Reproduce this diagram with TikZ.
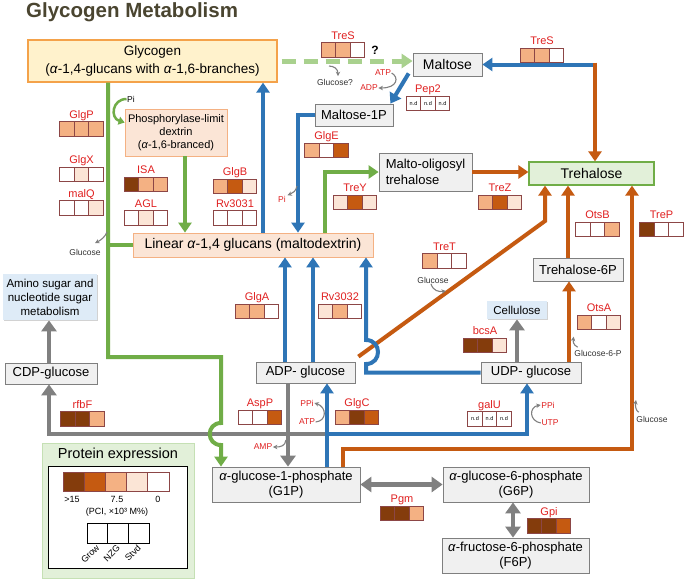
\documentclass[tikz,border=0pt]{standalone}
\usepackage{fontspec}
\setmainfont{Liberation Sans}
\usetikzlibrary{arrows.meta,positioning,shadows}

\definecolor{titlecol}{HTML}{4A4530}
\definecolor{grn}{HTML}{70AD47}
\definecolor{lgrn}{HTML}{A9D18E}
\definecolor{blu}{HTML}{2E75B6}
\definecolor{org}{HTML}{C55A11}
\definecolor{gry}{HTML}{808080}
\definecolor{db}{HTML}{843C0C}
\definecolor{mo}{HTML}{C55A11}
\definecolor{lo}{HTML}{F4B183}
\definecolor{vl}{HTML}{FBE5D6}
\definecolor{wh}{HTML}{FFFFFF}
\definecolor{cellborder}{HTML}{8C4646}
\definecolor{enzred}{HTML}{E02020}
\definecolor{boxgray}{HTML}{F0F0F0}
\definecolor{boxline}{HTML}{7F7F7F}
\definecolor{glyfill}{HTML}{FFF2CC}
\definecolor{glyline}{HTML}{F4A24A}
\definecolor{peach}{HTML}{FBE5D6}
\definecolor{peachline}{HTML}{F4B183}
\definecolor{paleblue}{HTML}{DEEBF7}
\definecolor{palegreen}{HTML}{E2F0D9}
\definecolor{legline}{HTML}{C5E0B4}

\tikzset{
  metab/.style={draw=boxline, fill=boxgray, line width=0.8pt, inner sep=0pt, align=center,
    font=\fontsize{13}{15}\selectfont,
    drop shadow={shadow xshift=1.2pt, shadow yshift=-1.2pt, opacity=0.35}},
  peachbox/.style={metab, draw=peachline, fill=peach},
  glybox/.style={metab, draw=glyline, fill=glyfill, line width=1.2pt, font=\fontsize{13.5}{18}\selectfont},
  trebox/.style={metab, draw=grn, fill=palegreen, line width=1.2pt, font=\fontsize{14}{16}\selectfont},
  bluebox/.style={metab, draw=none, fill=paleblue, font=\fontsize{11.5}{14}\selectfont},
  maintitle/.style={text=titlecol, font=\fontsize{20.5}{24}\selectfont\bfseries, inner sep=0pt},
  expcell/.style={draw=cellborder, line width=0.9pt, minimum width=14.5pt, minimum height=14.5pt, inner sep=0pt, outer sep=0pt},
  ndcell/.style={expcell, fill=white, font=\fontsize{5.5}{6}\selectfont},
  enzname/.style={text=enzred, font=\fontsize{11}{13}\selectfont, inner sep=0pt, text height=8pt, text depth=2.5pt},
  smalllab/.style={text=black!80, font=\fontsize{8.5}{10}\selectfont, inner sep=0.5pt},
  redlab/.style={smalllab, text=enzred},
  legtext/.style={font=\fontsize{9}{10}\selectfont, inner sep=0.5pt},
  flow/.style={line width=4pt, -{Triangle[width=13pt,length=10pt]}},
  blueflow/.style={flow, draw=blu},
  orgflow/.style={flow, draw=org},
  grnflow/.style={flow, draw=grn},
  grayflow/.style={flow, draw=gry, line width=4.5pt, -{Triangle[width=15pt,length=11pt]}},
  graytwo/.style={grayflow, {Triangle[width=15pt,length=11pt]}-{Triangle[width=15pt,length=11pt]}},
  dashflow/.style={draw=lgrn, line width=5pt, dash pattern=on 14pt off 8pt, -{Triangle[width=14pt,length=11pt]}},
  hook/.style={draw=gry, line width=1.1pt, -{Stealth[length=4.5pt,width=4.5pt]}},
  grnhook/.style={draw=grn, line width=2.5pt, -{Triangle[width=8pt,length=6pt]}}
}

\newcommand{\enzyme}[6]{%
  \node[expcell, fill=#5] (#1-2) at (#2) {};
  \node[expcell, fill=#4, left=0pt of #1-2] (#1-1) {};
  \node[expcell, fill=#6, right=0pt of #1-2] (#1-3) {};
  \node[enzname, above=1pt of #1-2] (#1) {#3};
}
\newcommand{\enzymend}[3]{%
  \node[ndcell] (#1-2) at (#2) {n.d};
  \node[ndcell, left=0pt of #1-2] (#1-1) {n.d};
  \node[ndcell, right=0pt of #1-2] (#1-3) {n.d};
  \node[enzname, above=1pt of #1-2] (#1) {#3};
}

\begin{document}
\begin{tikzpicture}[x=1pt,y=-1pt]
    \fill[white] (0,0) rectangle (685,579);
    \useasboundingbox (0,0) rectangle (685,579);

    \node[maintitle, anchor=base west] (title) at (26,17) {Glycogen Metabolism};

    \node[glybox, minimum width=249pt, minimum height=42pt] (glycogen) at (152.5,61) {Glycogen\\(\textit{α}-1,4-glucans with \textit{α}-1,6-branches)};
    \node[metab, minimum width=69pt, minimum height=23pt, font=\fontsize{14}{16}\selectfont] (maltose) at (447.5,64.5) {Maltose};
    \node[metab, minimum width=78pt, minimum height=22pt] (malt1p) at (354,115) {Maltose-1P};
    \node[peachbox, minimum width=102pt, minimum height=47pt, font=\fontsize{11}{13}\selectfont] (pld) at (176,132.5) {Phosphorylase-limit\\dextrin\\(\textit{α}-1,6-branced)};
    \node[metab, minimum width=93pt, minimum height=38pt, align=left, font=\fontsize{13}{16}\selectfont] (mot) at (425.5,172) {Malto-oligosyl\\trehalose};
    \node[trebox, minimum width=125pt, minimum height=23pt] (trehalose) at (591.5,173.5) {Trehalose};
    \node[peachbox, minimum width=240pt, minimum height=24pt, font=\fontsize{14}{16}\selectfont] (linear) at (253,245) {Linear \textit{α}-1,4 glucans (maltodextrin)};
    \node[metab, minimum width=90pt, minimum height=23pt] (t6p) at (578,269.5) {Trehalose-6P};
    \node[bluebox, minimum width=94pt, minimum height=46pt] (amino) at (50,297) {Amino sugar and\\nucleotide sugar\\metabolism};
    \node[bluebox, minimum width=60pt, minimum height=18pt] (cellulose) at (517,310) {Cellulose};
    \node[metab, minimum width=92pt, minimum height=21pt] (cdp) at (51,373.5) {CDP-glucose};
    \node[metab, minimum width=99pt, minimum height=21pt] (adp) at (305.5,372.5) {ADP- glucose};
    \node[metab, minimum width=100pt, minimum height=21pt] (udp) at (531,372.5) {UDP- glucose};
    \node[metab, minimum width=148pt, minimum height=35pt] (g1p) at (286,484.5) {\textit{α}-glucose-1-phosphate\\(G1P)};
    \node[metab, minimum width=146pt, minimum height=35pt] (g6p) at (516,484.5) {\textit{α}-glucose-6-phosphate\\(G6P)};
    \node[metab, minimum width=147pt, minimum height=35pt] (f6p) at (515.5,555.5) {\textit{α}-fructose-6-phosphate\\(F6P)};

    \coordinate (tresc) at (595,64.5);
    \coordinate (tretc) at (545,221);
    \coordinate (trepc) at (632,449);
    \coordinate (hopbot) at (366,364);
    \coordinate (hoptop) at (366,340);
    \coordinate (g1pb) at (327,434);
    \coordinate (galuc) at (527,434);
    \coordinate (rfbc) at (49,434);
    \coordinate (grnb) at (106,245);
    \coordinate (grnc) at (221,357);
    \coordinate (hopg1) at (221,423);
    \coordinate (hopg2) at (221,445);

    \draw[dashflow] ([xshift=4pt]glycogen.east) to (glycogen.east -| maltose.west);

    \draw[grayflow] (g1pb) -- (rfbc) to (rfbc |- cdp.south);
    \draw[grayflow] ([xshift=-17.5pt]adp.south) to ([xshift=-17.5pt]adp.south |- g1p.north);
    \draw[grayflow] ([xshift=-2pt]cdp.north) to ([xshift=-2pt]cdp.north |- amino.south);
    \draw[grayflow] (udp.north -| cellulose.south) to (cellulose.south);
    \draw[graytwo] (g1p.east) to (g6p.west);
    \draw[graytwo] ([xshift=-3pt]g6p.south) to ([xshift=-3pt]g6p.south |- f6p.north);

    \draw[orgflow] (mot.east) to (mot.east -| trehalose.west);
    \draw[orgflow] ([xshift=3pt,yshift=5pt]adp.north east) -- (tretc) to (tretc |- trehalose.south);
    \draw[orgflow] ([xshift=-10pt]t6p.north) to ([xshift=-10pt]t6p.north |- trehalose.south);
    \draw[orgflow] ([xshift=38pt]udp.north) to ([xshift=38pt]udp.north |- t6p.south);
    \draw[orgflow] ([xshift=57pt]g1p.north) |- (trepc) to (trepc |- trehalose.south);

    \draw[blueflow] ([xshift=2pt]tresc) to (tresc -| maltose.east);
    \draw[orgflow] ([yshift=2pt]tresc) to (tresc |- trehalose.north);
    \draw[blueflow] ([xshift=-4pt,yshift=3pt]maltose.south west) to ([xshift=-3pt]malt1p.north east);
    \draw[blueflow] (malt1p.west) -| ([xshift=45pt]linear.north);
    \draw[blueflow] ([xshift=10pt]linear.north) to ([xshift=10pt]linear.north |- glycogen.south);
    \draw[blueflow] ([xshift=-20.5pt]adp.north) to ([xshift=-20.5pt]adp.north |- linear.south);
    \draw[blueflow] ([xshift=7.5pt]adp.north) to ([xshift=7.5pt]adp.north |- linear.south);
    \draw[blueflow] ([xshift=41pt]g1p.north) to ([xshift=41pt]g1p.north |- adp.south);
    \draw[blueflow] ([xshift=-2pt]g1pb) -- (galuc) to (galuc |- udp.south);
    \draw[blueflow] (udp.west) -| (hopbot) .. controls (382,364) and (382,340) .. (hoptop) to (hoptop |- linear.south);

    \draw[grnflow] ([xshift=-44.5pt]glycogen.south) |- (grnc) -- (hopg1) .. controls (206,423) and (206,445) .. (hopg2) to (hopg2 |- g1p.north);
    \draw[grnflow, -] (grnb) to (linear.west);
    \draw[grnflow] ([xshift=9pt]pld.south) to ([xshift=9pt]pld.south |- linear.north);
    \draw[grnflow] ([xshift=72pt]linear.north) |- (mot.west);

    \node[smalllab, text=black] (pia) at (131,99) {Pi};
    \draw[grnhook] (pia.west) .. controls (112,99) and (110,118) .. ([yshift=10pt]pld.west);
    \node[redlab] (atpa) at (383,73) {ATP};
    \node[redlab] (adpa) at (369,88) {ADP};
    \draw[hook] (atpa.east) .. controls (399,77) and (398,88) .. (adpa.east);
    \node[smalllab] (glq) at (335,82) {Glucose?};
    \node[font=\fontsize{12}{14}\selectfont\bfseries, inner sep=0pt] (qmark) at (375,50) {?};
    \draw[hook] (329,66) .. controls (334,66) and (338,69) .. ([xshift=3pt,yshift=2pt]glq.north);
    \node[redlab] (pib) at (282,199) {Pi};
    \draw[hook] (297,186) .. controls (296,191) and (293,193) .. ([xshift=1pt]pib.north east);
    \node[smalllab] (glca) at (85,252) {Glucose};
    \draw[hook] (107,232) .. controls (105,237) and (101,240) .. ([xshift=10pt,yshift=5pt]glca.north);
    \node[smalllab] (glcb) at (433,280) {Glucose};
    \draw[hook] ([xshift=-2pt]glcb.south) .. controls (433,291) and (439,292) .. (446,291);
    \node[smalllab] (g6plab) at (598,353) {Glucose-6-P};
    \draw[hook] ([xshift=4pt,yshift=2pt]g6plab.north west) .. controls (573,345) and (573,341) .. ([yshift=12.5pt]g6plab.north west);
    \node[smalllab] (glcc) at (652,419) {Glucose};
    \draw[hook] ([xshift=3pt,yshift=3pt]glcc.north west) .. controls (636,411) and (635,406) .. (636,400);
    \node[redlab] (ppia) at (307,403) {PPi};
    \node[redlab] (atpb) at (307,422) {ATP};
    \draw[hook] (atpb.east) .. controls (327,421) and (327,407) .. (ppia.east);
    \node[redlab] (ampa) at (263,447) {AMP};
    \draw[hook] (286,440) .. controls (285,446) and (281,447) .. (ampa.east);
    \node[redlab] (ppib) at (548,405) {PPi};
    \node[redlab] (utpa) at (550,423) {UTP};
    \draw[hook] (utpa.west) .. controls (529,421) and (529,407) .. (ppib.west);

    \enzyme{glgp}{81.5,129}{GlgP}{lo}{lo}{lo}
    \enzyme{glgx}{81.5,174.5}{GlgX}{wh}{vl}{wh}
    \enzyme{malq}{81.5,208}{malQ}{wh}{wh}{vl}
    \enzyme{isa}{146,184.5}{ISA}{db}{lo}{lo}
    \enzyme{agl}{146,218}{AGL}{wh}{vl}{wh}
    \enzyme{glgb}{235,186.5}{GlgB}{lo}{mo}{vl}
    \enzyme{rv3031}{235,218}{Rv3031}{wh}{wh}{wh}
    \enzyme{glge}{326.5,150.5}{GlgE}{lo}{wh}{mo}
    \enzyme{trey}{355,202.5}{TreY}{vl}{mo}{vl}
    \enzyme{trez}{500,202.5}{TreZ}{lo}{mo}{vl}
    \enzyme{tresa}{343,50}{TreS}{lo}{lo}{wh}
    \enzyme{tresb}{542,55.5}{TreS}{lo}{lo}{wh}
    \enzymend{pep2}{428,103.5}{Pep2}
    \enzyme{tret}{444.5,261}{TreT}{lo}{wh}{wh}
    \enzyme{otsb}{597.5,229.5}{OtsB}{wh}{wh}{lo}
    \enzyme{trep}{661.5,229.5}{TreP}{db}{wh}{wh}
    \enzyme{glga}{257,311.5}{GlgA}{lo}{lo}{wh}
    \enzyme{rv3032}{340,311.5}{Rv3032}{vl}{lo}{wh}
    \enzyme{otsa}{599,322.5}{OtsA}{lo}{wh}{vl}
    \enzyme{bcsa}{485,345.5}{bcsA}{db}{db}{vl}
    \enzyme{rfbf}{82.5,419}{rfbF}{db}{db}{lo}
    \enzyme{aspp}{260,417.5}{AspP}{wh}{wh}{mo}
    \enzyme{glgc}{357,417.5}{GlgC}{lo}{db}{mo}
    \enzymend{galu}{489.5,419}{galU}
    \enzyme{pgm}{402,513.5}{Pgm}{db}{db}{lo}
    \enzyme{gpi}{549,526}{Gpi}{db}{db}{mo}

    \node[draw=legline, fill=palegreen, minimum width=152pt, minimum height=135pt] (legend) at (118,510.5) {};
    \node[font=\fontsize{14.5}{17}\selectfont, inner sep=0pt] (legtitle) at (118,455) {Protein expression};
    \node[draw=black, fill=white, line width=0.8pt, minimum width=139pt, minimum height=102pt] (legframe) at (117.5,517) {};
    \foreach \c [count=\i] in {db,mo,lo,vl,wh}
      \node[expcell, fill=\c, minimum width=21.2pt, minimum height=19pt] (scale\i) at (52.4+21.2*\i,481.5) {};
    \node[legtext] (lmax) at (72,499) {>15};
    \node[legtext] (lmid) at (117,499) {7.5};
    \node[legtext] (lmin) at (158,499) {0};
    \node[legtext] (lunit) at (117,512) {(PCI, ×10³ M\%)};
    \foreach \n [count=\i] in {Grow,NZG,Stvd} {
      \node[draw=black, line width=0.8pt, minimum width=20.7pt, minimum height=20pt, inner sep=0pt, outer sep=0pt] (cond\i) at (76.6+20.7*\i,533) {};
      \node[legtext, rotate=45, anchor=east] (cname\i) at ([xshift=1pt,yshift=-3pt]cond\i.south) {\n};
    }
\end{tikzpicture}
\end{document}
